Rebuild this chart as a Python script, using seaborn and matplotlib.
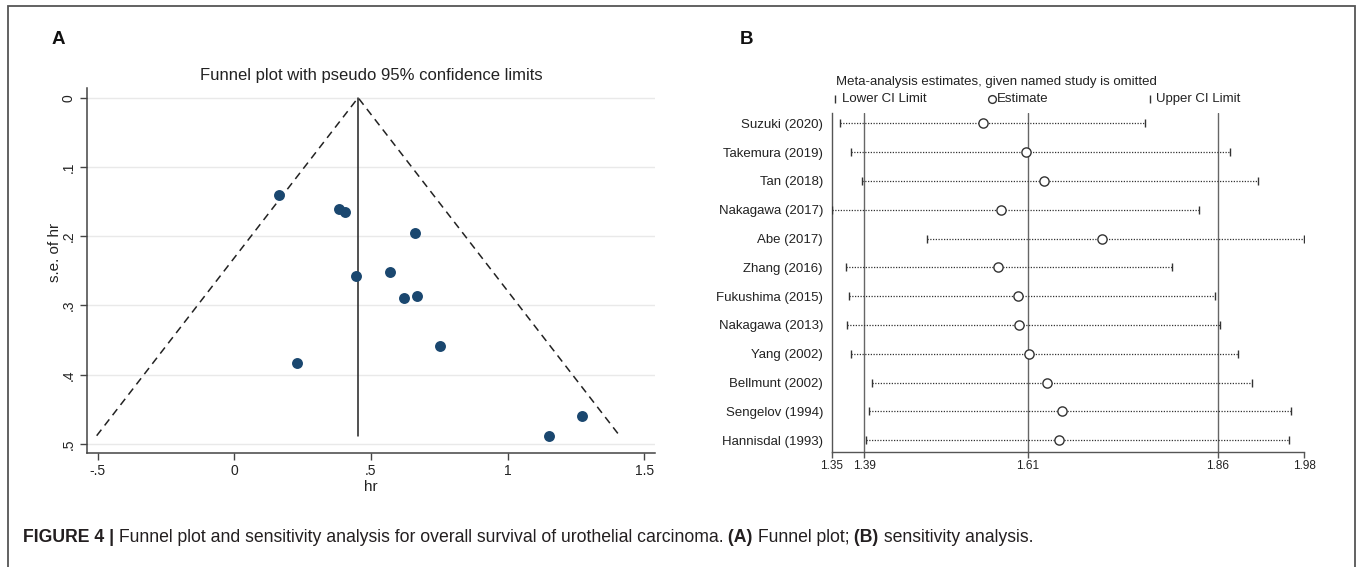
import numpy as np
import pandas as pd
import matplotlib
matplotlib.use("Agg")
import matplotlib.pyplot as plt
from matplotlib.lines import Line2D
from matplotlib.patches import Rectangle
import seaborn as sns

# ---- data: panel A (funnel plot) ----
hr = [0.163, 0.384, 0.406, 0.662, 0.570, 0.444, 0.619, 0.667, 0.751, 0.230, 1.272, 1.153]
se_hr = [0.140, 0.161, 0.165, 0.195, 0.252, 0.258, 0.289, 0.286, 0.358, 0.383, 0.459, 0.488]
pooled_hr = 0.453
funnel_xticks = [-0.5, 0, 0.5, 1, 1.5]
funnel_xlabels = ["-.5", "0", ".5", "1", "1.5"]
funnel_yticks = [0, 0.1, 0.2, 0.3, 0.4, 0.5]
funnel_ylabels = ["0", ".1", ".2", ".3", ".4", ".5"]

# ---- data: panel B (leave-one-out sensitivity) ----
studies = ["Suzuki (2020)", "Takemura (2019)", "Tan (2018)", "Nakagawa (2017)",
           "Abe (2017)", "Zhang (2016)", "Fukushima (2015)", "Nakagawa (2013)",
           "Yang (2002)", "Bellmunt (2002)", "Sengelov (1994)", "Hannisdal (1993)"]
est = [1.550, 1.607, 1.632, 1.574, 1.709, 1.570, 1.597, 1.598, 1.612, 1.636, 1.656, 1.652]
lower = [1.359, 1.374, 1.389, 1.349, 1.476, 1.367, 1.372, 1.369, 1.374, 1.402, 1.398, 1.394]
upper = [1.766, 1.880, 1.917, 1.838, 1.978, 1.802, 1.859, 1.866, 1.890, 1.909, 1.961, 1.958]
overall = [1.392, 1.610, 1.863]  # lower CI, estimate, upper CI

W, H = 1357, 567
def fx(px):
    return px / W
def fy(py):
    return 1 - py / H

sns.set_theme(style="white")
plt.rcParams["font.family"] = ["Liberation Sans", "DejaVu Sans"]
ink = "#222222"

fig = plt.figure(figsize=(W / 100, H / 100), dpi=100)
fig.patch.set_facecolor("white")

# outer frame
fig.add_artist(Rectangle((fx(8), fy(575)), fx(1355) - fx(8), fy(6) - fy(575),
                         transform=fig.transFigure, fill=False, ec="#555555", lw=1.3))

# ================= Panel A =================
axA = fig.add_axes([fx(86.7), fy(453.3), fx(655) - fx(86.7), fy(88.3) - fy(453.3)])
df_f = pd.DataFrame({"hr": hr, "se": se_hr})
sns.scatterplot(data=df_f, x="hr", y="se", ax=axA, s=62, color="#1a476f",
                edgecolor="#1a476f", linewidth=0, zorder=4)
se_max = max(se_hr)
axA.plot([pooled_hr - 1.96 * se_max, pooled_hr, pooled_hr + 1.96 * se_max],
         [se_max, 0, se_max], ls=(0, (5, 3.5)), color=ink, lw=1.1, zorder=3)
axA.plot([pooled_hr, pooled_hr], [0, se_max], color=ink, lw=1.1, zorder=3)

axA.set_xlim(-0.540, 1.539)
axA.set_ylim(0.5134, -0.0136)
axA.set_xticks(funnel_xticks)
axA.set_xticklabels(funnel_xlabels)
axA.set_yticks(funnel_yticks)
axA.set_yticklabels(funnel_ylabels, rotation=90, va="center")
axA.grid(axis="y", color="#e9e9e9", lw=1.0)
axA.grid(axis="x", visible=False)
for s in ["top", "right"]:
    axA.spines[s].set_visible(False)
for s in ["left", "bottom"]:
    axA.spines[s].set_color("#444444")
    axA.spines[s].set_linewidth(1.1)
axA.tick_params(axis="both", direction="out", length=5, width=1.0, color="#444444",
                labelsize=10, labelcolor=ink, left=True, bottom=True)
axA.tick_params(axis="x", pad=3)
axA.tick_params(axis="y", pad=3)
axA.set_xlabel("hr", fontsize=11, color=ink)
axA.set_ylabel("s.e. of hr", fontsize=11, color=ink)
axA.xaxis.set_label_coords(0.5, -0.073)
axA.yaxis.set_label_coords(-0.043, 0.55)
fig.text(fx(371), fy(75.5), "Funnel plot with pseudo 95% confidence limits",
         ha="center", va="center", fontsize=12, color=ink)
fig.text(fx(58), fy(40), "A", ha="center", va="center", fontsize=13.5,
         fontweight="bold", color="#111111")

# ================= Panel B =================
axB = fig.add_axes([fx(832), fy(451.7), fx(1304) - fx(832), fy(113) - fy(451.7)])
ypos = np.arange(len(studies))
df_s = pd.DataFrame({"study": studies, "pos": ypos, "est": est,
                     "lower": lower, "upper": upper})
for v in overall:
    axB.axvline(v, color="#666666", lw=1.0, zorder=1)
axB.hlines(df_s["pos"], df_s["lower"], df_s["upper"], colors="#333333",
           linestyles=(0, (1, 1.2)), lw=0.9, zorder=2)
axB.plot(df_s["lower"], df_s["pos"], ls="none", marker="|", ms=6, mew=1.0,
         color="#333333", zorder=3)
axB.plot(df_s["upper"], df_s["pos"], ls="none", marker="|", ms=6, mew=1.0,
         color="#333333", zorder=3)
sns.scatterplot(data=df_s, x="est", y="pos", ax=axB, marker="o", s=44,
                facecolor="white", edgecolor="#333333", linewidth=1.0, zorder=4)

lo_end, hi_end = min(lower), max(upper)
bticks = [lo_end] + overall + [hi_end]
axB.set_xlim(lo_end, hi_end)
axB.set_ylim(len(studies) - 0.6, -0.36)
axB.set_xticks(bticks)
axB.set_xticklabels(["%.2f" % v for v in bticks])
axB.set_yticks(ypos)
axB.set_yticklabels(studies)
axB.set_xlabel("")
axB.set_ylabel("")
axB.grid(False)
for s in ["top", "right"]:
    axB.spines[s].set_visible(False)
for s in ["left", "bottom"]:
    axB.spines[s].set_color("#555555")
    axB.spines[s].set_linewidth(1.0)
axB.tick_params(axis="x", direction="out", length=4, width=1.0, color="#555555",
                labelsize=8.5, labelcolor=ink, pad=2, bottom=True)
axB.tick_params(axis="y", length=0, labelsize=9.5, labelcolor=ink, pad=6.5)

fig.text(fx(836), fy(81.7), "Meta-analysis estimates, given named study is omitted",
         ha="left", va="center", fontsize=9.5, color=ink)
fig.add_artist(Line2D([fx(835)], [fy(99)], marker="|", ms=6, mew=1.0,
                      color="#333333", transform=fig.transFigure))
fig.text(fx(841.5), fy(99), "Lower CI Limit", ha="left", va="center",
         fontsize=9.5, color=ink)
fig.add_artist(Line2D([fx(991.5)], [fy(99)], marker="o", ms=5.6, mew=1.0,
                      mfc="white", color="#333333", transform=fig.transFigure))
fig.text(fx(996.5), fy(99), "Estimate", ha="left", va="center",
         fontsize=9.5, color=ink)
fig.add_artist(Line2D([fx(1149.5)], [fy(99)], marker="|", ms=6, mew=1.0,
                      color="#333333", transform=fig.transFigure))
fig.text(fx(1156.5), fy(99), "Upper CI Limit", ha="left", va="center",
         fontsize=9.5, color=ink)
fig.text(fx(747), fy(40), "B", ha="center", va="center", fontsize=13.5,
         fontweight="bold", color="#111111")

# ================= caption =================
renderer = fig.canvas.get_renderer()
pieces = [("FIGURE 4 |", "bold"),
          (" Funnel plot and sensitivity analysis for overall survival of urothelial carcinoma.", "normal"),
          (" (A)", "bold"), (" Funnel plot;", "normal"),
          (" (B)", "bold"), (" sensitivity analysis.", "normal")]
xc = fx(22.7)
for txt, wt in pieces:
    t = fig.text(xc, fy(538), txt, ha="left", va="center", fontsize=12.7,
                 fontweight=wt, color="#231f20")
    bb = t.get_window_extent(renderer)
    xc += bb.width / W

fig.savefig("out.png", dpi=100, facecolor="white")
